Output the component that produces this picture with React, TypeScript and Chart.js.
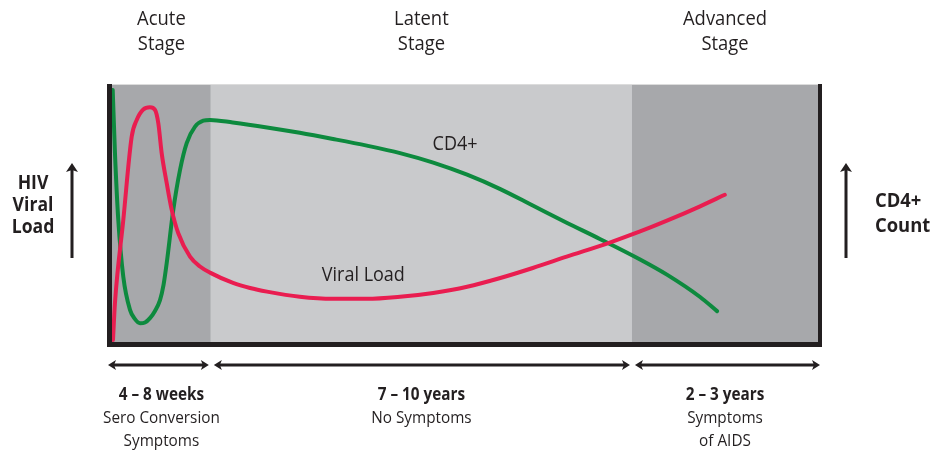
import React, { useEffect, useRef } from "react";
import { Chart, registerables } from "chart.js";

Chart.register(...registerables);

// ---- data (time in arbitrary units 0–100, values in relative units 0–100) ----
const stageNames: string[][] = [["Acute", "Stage"], ["Latent", "Stage"], ["Advanced", "Stage"]];
const stageBounds: number[] = [0, 14.0, 73.65, 100];
const durationLabels: string[] = ["4 – 8 weeks", "7 – 10 years", "2 – 3 years"];
const durationNotes: string[][] = [["Sero Conversion", "Symptoms"], ["No Symptoms"], ["Symptoms", "of AIDS"]];
const leftAxisLabel: string[] = ["HIV", "Viral", "Load"];
const rightAxisLabel: string[] = ["CD4+", "Count"];

const viralX: number[] = [0.14, 0.42, 1.6, 2.79, 3.5, 4.43, 5.38, 6.09, 6.56, 7.04, 7.75, 8.46, 9.39, 11.05, 12.46, 13.95, 17.14, 19.55, 21.95, 26.6, 31.3, 36.1, 40.8, 45.5, 50.3, 55.0, 59.6, 64.4, 70.5, 74.8, 78.6, 83.3, 86.8];
const viralY: number[] = [0.8, 15.2, 47.5, 79.9, 86.4, 90.5, 91.3, 90.3, 85.1, 73.4, 61.8, 51.4, 42.3, 33.2, 29.4, 26.9, 23.0, 21.0, 19.6, 17.6, 16.8, 16.8, 17.6, 19.1, 21.5, 24.9, 28.8, 33.2, 38.7, 43.0, 47.2, 52.8, 57.3];

const cd4X: number[] = [0.1, 0.42, 0.89, 1.6, 2.55, 3.26, 3.97, 4.67, 5.38, 6.09, 6.8, 7.3, 7.75, 8.68, 9.63, 10.58, 11.76, 12.93, 13.88, 17.1, 21.95, 26.6, 31.3, 36.1, 40.8, 45.5, 50.3, 55.0, 59.6, 64.4, 69.1, 74.8, 78.6, 83.3, 85.7];
const cd4Y: number[] = [98.1, 73.5, 47.5, 25.4, 12.5, 8.9, 7.3, 7.6, 9.3, 12.1, 16.3, 22.2, 30.7, 51.4, 66.9, 77.4, 83.8, 86.1, 86.4, 85.4, 83.5, 81.4, 79.0, 76.4, 73.5, 69.8, 65.1, 59.5, 53.1, 46.4, 40.1, 32.1, 26.2, 17.5, 12.0];

const seriesNames: string[] = ["Viral Load", "CD4+"];
const seriesLabelPos: number[][] = [[35.6, 26], [48.6, 77]];

const FONT = "'Open Sans', 'DejaVu Sans', sans-serif";
const INK = "#231f20";
const RED = "#e91d50";
const GREEN = "#0d8a3e";
const DARK = "#a7a8ab";
const LIGHT = "#c9cacc";

function drawText(ctx: CanvasRenderingContext2D, text: string, x: number, y: number, font: string, align: CanvasTextAlign, sx: number) {
  ctx.save();
  ctx.translate(x, y);
  ctx.scale(sx, 1);
  ctx.font = font;
  ctx.textAlign = align;
  ctx.textBaseline = "middle";
  ctx.fillStyle = INK;
  ctx.fillText(text, 0, 0);
  ctx.restore();
}

function vArrow(ctx: CanvasRenderingContext2D, x: number, yTop: number, yBot: number) {
  ctx.save();
  ctx.fillStyle = INK;
  ctx.fillRect(x - 1.5, yTop + 6, 3, yBot - yTop - 6);
  ctx.beginPath();
  ctx.moveTo(x, yTop);
  ctx.lineTo(x + 6, yTop + 9);
  ctx.lineTo(x, yTop + 7);
  ctx.lineTo(x - 6, yTop + 9);
  ctx.closePath();
  ctx.fill();
  ctx.restore();
}

function hArrow(ctx: CanvasRenderingContext2D, x1: number, x2: number, y: number) {
  ctx.save();
  ctx.fillStyle = INK;
  ctx.fillRect(x1 + 5, y - 1.5, x2 - x1 - 10, 3);
  ctx.beginPath();
  ctx.moveTo(x1, y);
  ctx.lineTo(x1 + 8, y - 5);
  ctx.lineTo(x1 + 6, y);
  ctx.lineTo(x1 + 8, y + 5);
  ctx.closePath();
  ctx.fill();
  ctx.beginPath();
  ctx.moveTo(x2, y);
  ctx.lineTo(x2 - 8, y - 5);
  ctx.lineTo(x2 - 6, y);
  ctx.lineTo(x2 - 8, y + 5);
  ctx.closePath();
  ctx.fill();
  ctx.restore();
}

const decorPlugin = {
  id: "decor",
  beforeDatasetsDraw(chart: any) {
    const { ctx, chartArea, scales } = chart;
    const xs = scales.x;
    ctx.save();
    for (let i = 0; i < 3; i++) {
      const a = xs.getPixelForValue(stageBounds[i]);
      const b = xs.getPixelForValue(stageBounds[i + 1]);
      ctx.fillStyle = i === 1 ? LIGHT : DARK;
      ctx.fillRect(a, chartArea.top, b - a, chartArea.bottom - chartArea.top);
    }
    ctx.restore();
  },
  afterDraw(chart: any) {
    const { ctx, chartArea, scales } = chart;
    const xs = scales.x;
    const ys = scales.y;
    const L = chartArea.left, R = chartArea.right, T = chartArea.top, B = chartArea.bottom;
    ctx.save();
    // frame
    ctx.fillStyle = "#dcdcdc";
    ctx.fillRect(L, T - 1, R - L, 1);
    ctx.fillStyle = INK;
    ctx.fillRect(L - 5, T - 1, 5, B - T + 6);
    ctx.fillRect(L - 5, B, R - L + 9, 5);
    ctx.fillRect(R, T - 1, 4, B - T + 6);

    // stage titles & durations
    for (let i = 0; i < 3; i++) {
      const cx = xs.getPixelForValue((stageBounds[i] + stageBounds[i + 1]) / 2);
      stageNames[i].forEach((t, k) => drawText(ctx, t, cx, 19 + k * 25, `20px ${FONT}`, "center", 0.92));
      drawText(ctx, durationLabels[i], cx, 395, `bold 17px ${FONT}`, "center", 0.9);
      durationNotes[i].forEach((t, k) => drawText(ctx, t, cx, 418 + k * 23, `17px ${FONT}`, "center", 0.9));
      const a = xs.getPixelForValue(stageBounds[i]);
      const b = xs.getPixelForValue(stageBounds[i + 1]);
      const x1 = i === 0 ? a - 4 : a + 3;
      const x2 = i === 2 ? b + 2 : b - 2;
      hArrow(ctx, x1, x2, 365);
    }

    // series labels
    seriesNames.forEach((n, i) => {
      drawText(ctx, n, xs.getPixelForValue(seriesLabelPos[i][0]), ys.getPixelForValue(seriesLabelPos[i][1]), `20px ${FONT}`, "center", 0.9);
    });

    // side labels
    leftAxisLabel.forEach((t, k) => drawText(ctx, t, 33, 183 + k * 22, `bold 20px ${FONT}`, "center", 0.88));
    rightAxisLabel.forEach((t, k) => drawText(ctx, t, 875, 201 + k * 25, `bold 20px ${FONT}`, "left", 0.92));
    vArrow(ctx, 72, 163, 258);
    vArrow(ctx, 846, 163, 258);
    ctx.restore();
  },
};

export default function App() {
  const ref = useRef<HTMLCanvasElement | null>(null);
  useEffect(() => {
    if (!ref.current) return;
    const chart = new Chart(ref.current, {
      type: "line",
      data: {
        datasets: [
          {
            label: seriesNames[0],
            data: viralX.map((x, i) => ({ x, y: viralY[i] })),
            borderColor: RED,
            borderWidth: 4,
            pointRadius: 0,
            cubicInterpolationMode: "monotone",
            borderCapStyle: "round",
            fill: false,
          },
          {
            label: seriesNames[1],
            data: cd4X.map((x, i) => ({ x, y: cd4Y[i] })),
            borderColor: GREEN,
            borderWidth: 4,
            pointRadius: 0,
            cubicInterpolationMode: "monotone",
            borderCapStyle: "round",
            fill: false,
          },
        ],
      },
      options: {
        animation: false,
        responsive: false,
        devicePixelRatio: 1,
        layout: { padding: { left: 112, right: 119, top: 85, bottom: 108 } },
        scales: {
          x: { type: "linear", min: 0, max: 100, display: false },
          y: { type: "linear", min: 0, max: 100, display: false },
        },
        plugins: { legend: { display: false }, tooltip: { enabled: false } },
      },
      plugins: [decorPlugin],
    } as any);
    return () => chart.destroy();
  }, []);
  return (
    <div style={{ position: "fixed", left: 0, top: 0, width: 937, height: 450, background: "#fff" }}>
      <canvas ref={ref} width={937} height={450} style={{ display: "block" }} />
    </div>
  );
}
